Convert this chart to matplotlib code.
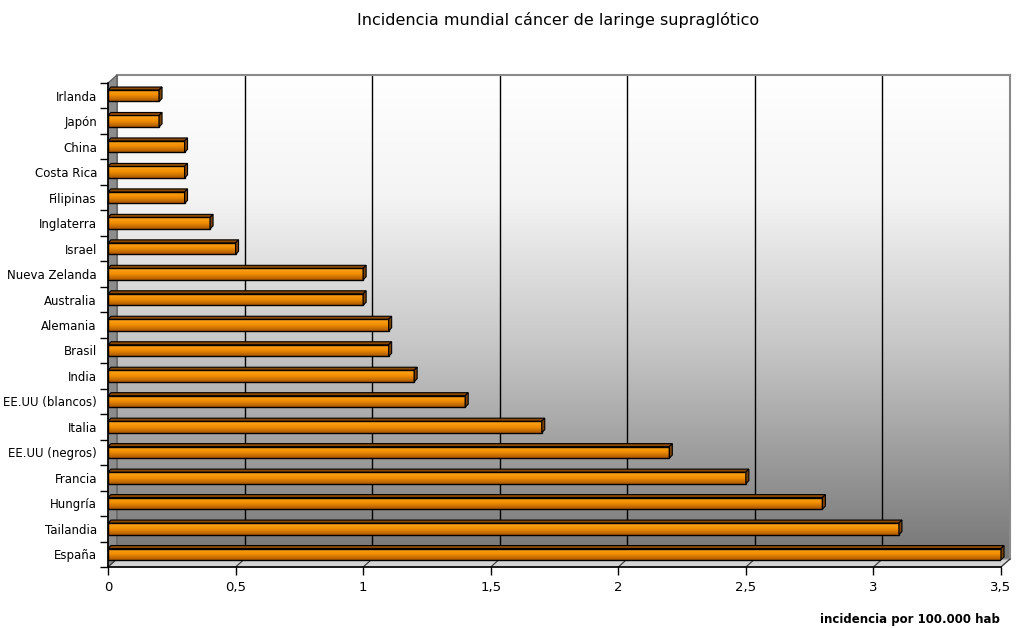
import numpy as np
import matplotlib
matplotlib.use("Agg")
import matplotlib.pyplot as plt
from matplotlib.patches import Polygon, Rectangle
from matplotlib.colors import LinearSegmentedColormap
from matplotlib.transforms import IdentityTransform

# data
paises = ["Irlanda", "Japón", "China", "Costa Rica", "Filipinas", "Inglaterra",
          "Israel", "Nueva Zelanda", "Australia", "Alemania", "Brasil", "India",
          "EE.UU (blancos)", "Italia", "EE.UU (negros)", "Francia", "Hungría",
          "Tailandia", "España"]
incidencia = [0.2, 0.2, 0.3, 0.3, 0.3, 0.4, 0.5, 1.0, 1.0, 1.1, 1.1, 1.2,
              1.4, 1.7, 2.2, 2.5, 2.8, 3.1, 3.5]
ticks_x = [0, 0.5, 1, 1.5, 2, 2.5, 3, 3.5]
ticks_x_labels = ["0", "0,5", "1", "1,5", "2", "2,5", "3", "3,5"]

titulo = "Incidencia mundial cáncer de laringe supraglótico"
eje_x = "incidencia por 100.000 hab"

plt.rcParams['font.family'] = ['DejaVu Sans']

W, H = 1016, 628
fig = plt.figure(figsize=(W / 100, H / 100), dpi=100)

# front plane of the chart in pixels, and depth of the walls
L, R, T, B = 108, 1001, 83, 567
DX, DY = 9, 8
XMAX = 3.5
n = len(paises)

# back wall with grey gradient
bk = fig.add_axes([(L + DX) / W, 1 - (B - DY) / H, (R - L) / W, (B - T) / H])
bk.set_zorder(0)
grad = np.linspace(0, 1, 256).reshape(-1, 1)
wall_cmap = LinearSegmentedColormap.from_list(
    "wall", [(0, "#ffffff"), (0.25, "#f4f4f4"), (0.55, "#c8c8c8"), (1, "#767676")])
bk.imshow(grad, extent=[0, XMAX, 0, 1], cmap=wall_cmap, aspect="auto", origin="upper")
bk.set_xlim(0, XMAX)
bk.set_ylim(0, 1)
for t in ticks_x[1:-1]:
    bk.axvline(t, color="black", lw=1)
for s in bk.spines.values():
    s.set_color("#8a8a8a")
    s.set_linewidth(1.5)
bk.set_xticks([])
bk.set_yticks([])

# side wall and floor
lf, rf, tf, bf = L / W, R / W, 1 - T / H, 1 - B / H
dxf, dyf = DX / W, DY / H
side = Polygon([(lf, bf), (lf, tf), (lf + dxf, tf + dyf), (lf + dxf, bf + dyf)],
               closed=True, transform=fig.transFigure, facecolor="#8c8c8c",
               edgecolor="#555555", lw=0.8, zorder=1)
floor = Polygon([(lf, bf), (rf, bf), (rf + dxf, bf + dyf), (lf + dxf, bf + dyf)],
                closed=True, transform=fig.transFigure, facecolor="#d4d4d4",
                edgecolor="#8a8a8a", lw=0.8, zorder=1)
fig.add_artist(side)
fig.add_artist(floor)

# main (front) axes
ax = fig.add_axes([L / W, 1 - B / H, (R - L) / W, (B - T) / H])
ax.set_zorder(2)
ax.patch.set_alpha(0)
ax.set_xlim(0, XMAX)
ax.set_ylim(n - 0.5, -0.5)
for s in ["top", "right"]:
    ax.spines[s].set_visible(False)
ax.spines["left"].set_linewidth(1.2)
ax.spines["bottom"].set_linewidth(1.2)

ax.set_xticks(ticks_x)
ax.set_xticklabels(ticks_x_labels, fontsize=9.5)
ax.tick_params(axis="x", direction="out", length=6, width=1, pad=4)
ax.set_yticks(range(n))
ax.set_yticklabels(paises, fontsize=8.5)
ax.tick_params(axis="y", which="major", length=0, pad=8)
ax.set_yticks(np.arange(-0.5, n), minor=True)
ax.tick_params(axis="y", which="minor", length=6, width=1)

fig.canvas.draw()
td = ax.transData

# diagonal ticks on the floor
for t in ticks_x:
    x0, y0 = td.transform((t, n - 0.5))
    ax.plot([x0, x0 + DX], [y0, y0 + DY], color="#333333", lw=0.8,
            transform=IdentityTransform(), clip_on=False, zorder=1)

# 3d bars
h = 0.45
d = 3
bar_cmap = LinearSegmentedColormap.from_list("bar", ["#ffa820", "#f08c00", "#a85800"])
for i, v in enumerate(incidencia):
    ax.imshow(grad, extent=[0, v, i + h / 2, i - h / 2], cmap=bar_cmap,
              aspect="auto", origin="upper", zorder=3)
    ax.add_patch(Rectangle((0, i - h / 2), v, h, fill=False, edgecolor="black",
                           lw=1, zorder=4))
    p0 = np.array(td.transform((0, i - h / 2)))
    p1 = np.array(td.transform((v, i - h / 2)))
    p2 = np.array(td.transform((v, i + h / 2)))
    off = np.array([d, d])
    top = Polygon([p0, p1, p1 + off, p0 + off], closed=True,
                  transform=IdentityTransform(), facecolor="#8a4800",
                  edgecolor="black", lw=0.8, zorder=4, clip_on=False)
    end = Polygon([p1, p2, p2 + off, p1 + off], closed=True,
                  transform=IdentityTransform(), facecolor="#7a4000",
                  edgecolor="black", lw=0.8, zorder=4, clip_on=False)
    ax.add_patch(top)
    ax.add_patch(end)

ax.set_xlim(0, XMAX)
ax.set_ylim(n - 0.5, -0.5)

fig.text(558 / W, 1 - 20 / H, titulo, ha="center", va="center", fontsize=11.5)
fig.text(1000 / W, 1 - 619 / H, eje_x, ha="right", va="center", fontsize=8.5,
         fontweight="bold")

fig.savefig("out.png", dpi=100)
